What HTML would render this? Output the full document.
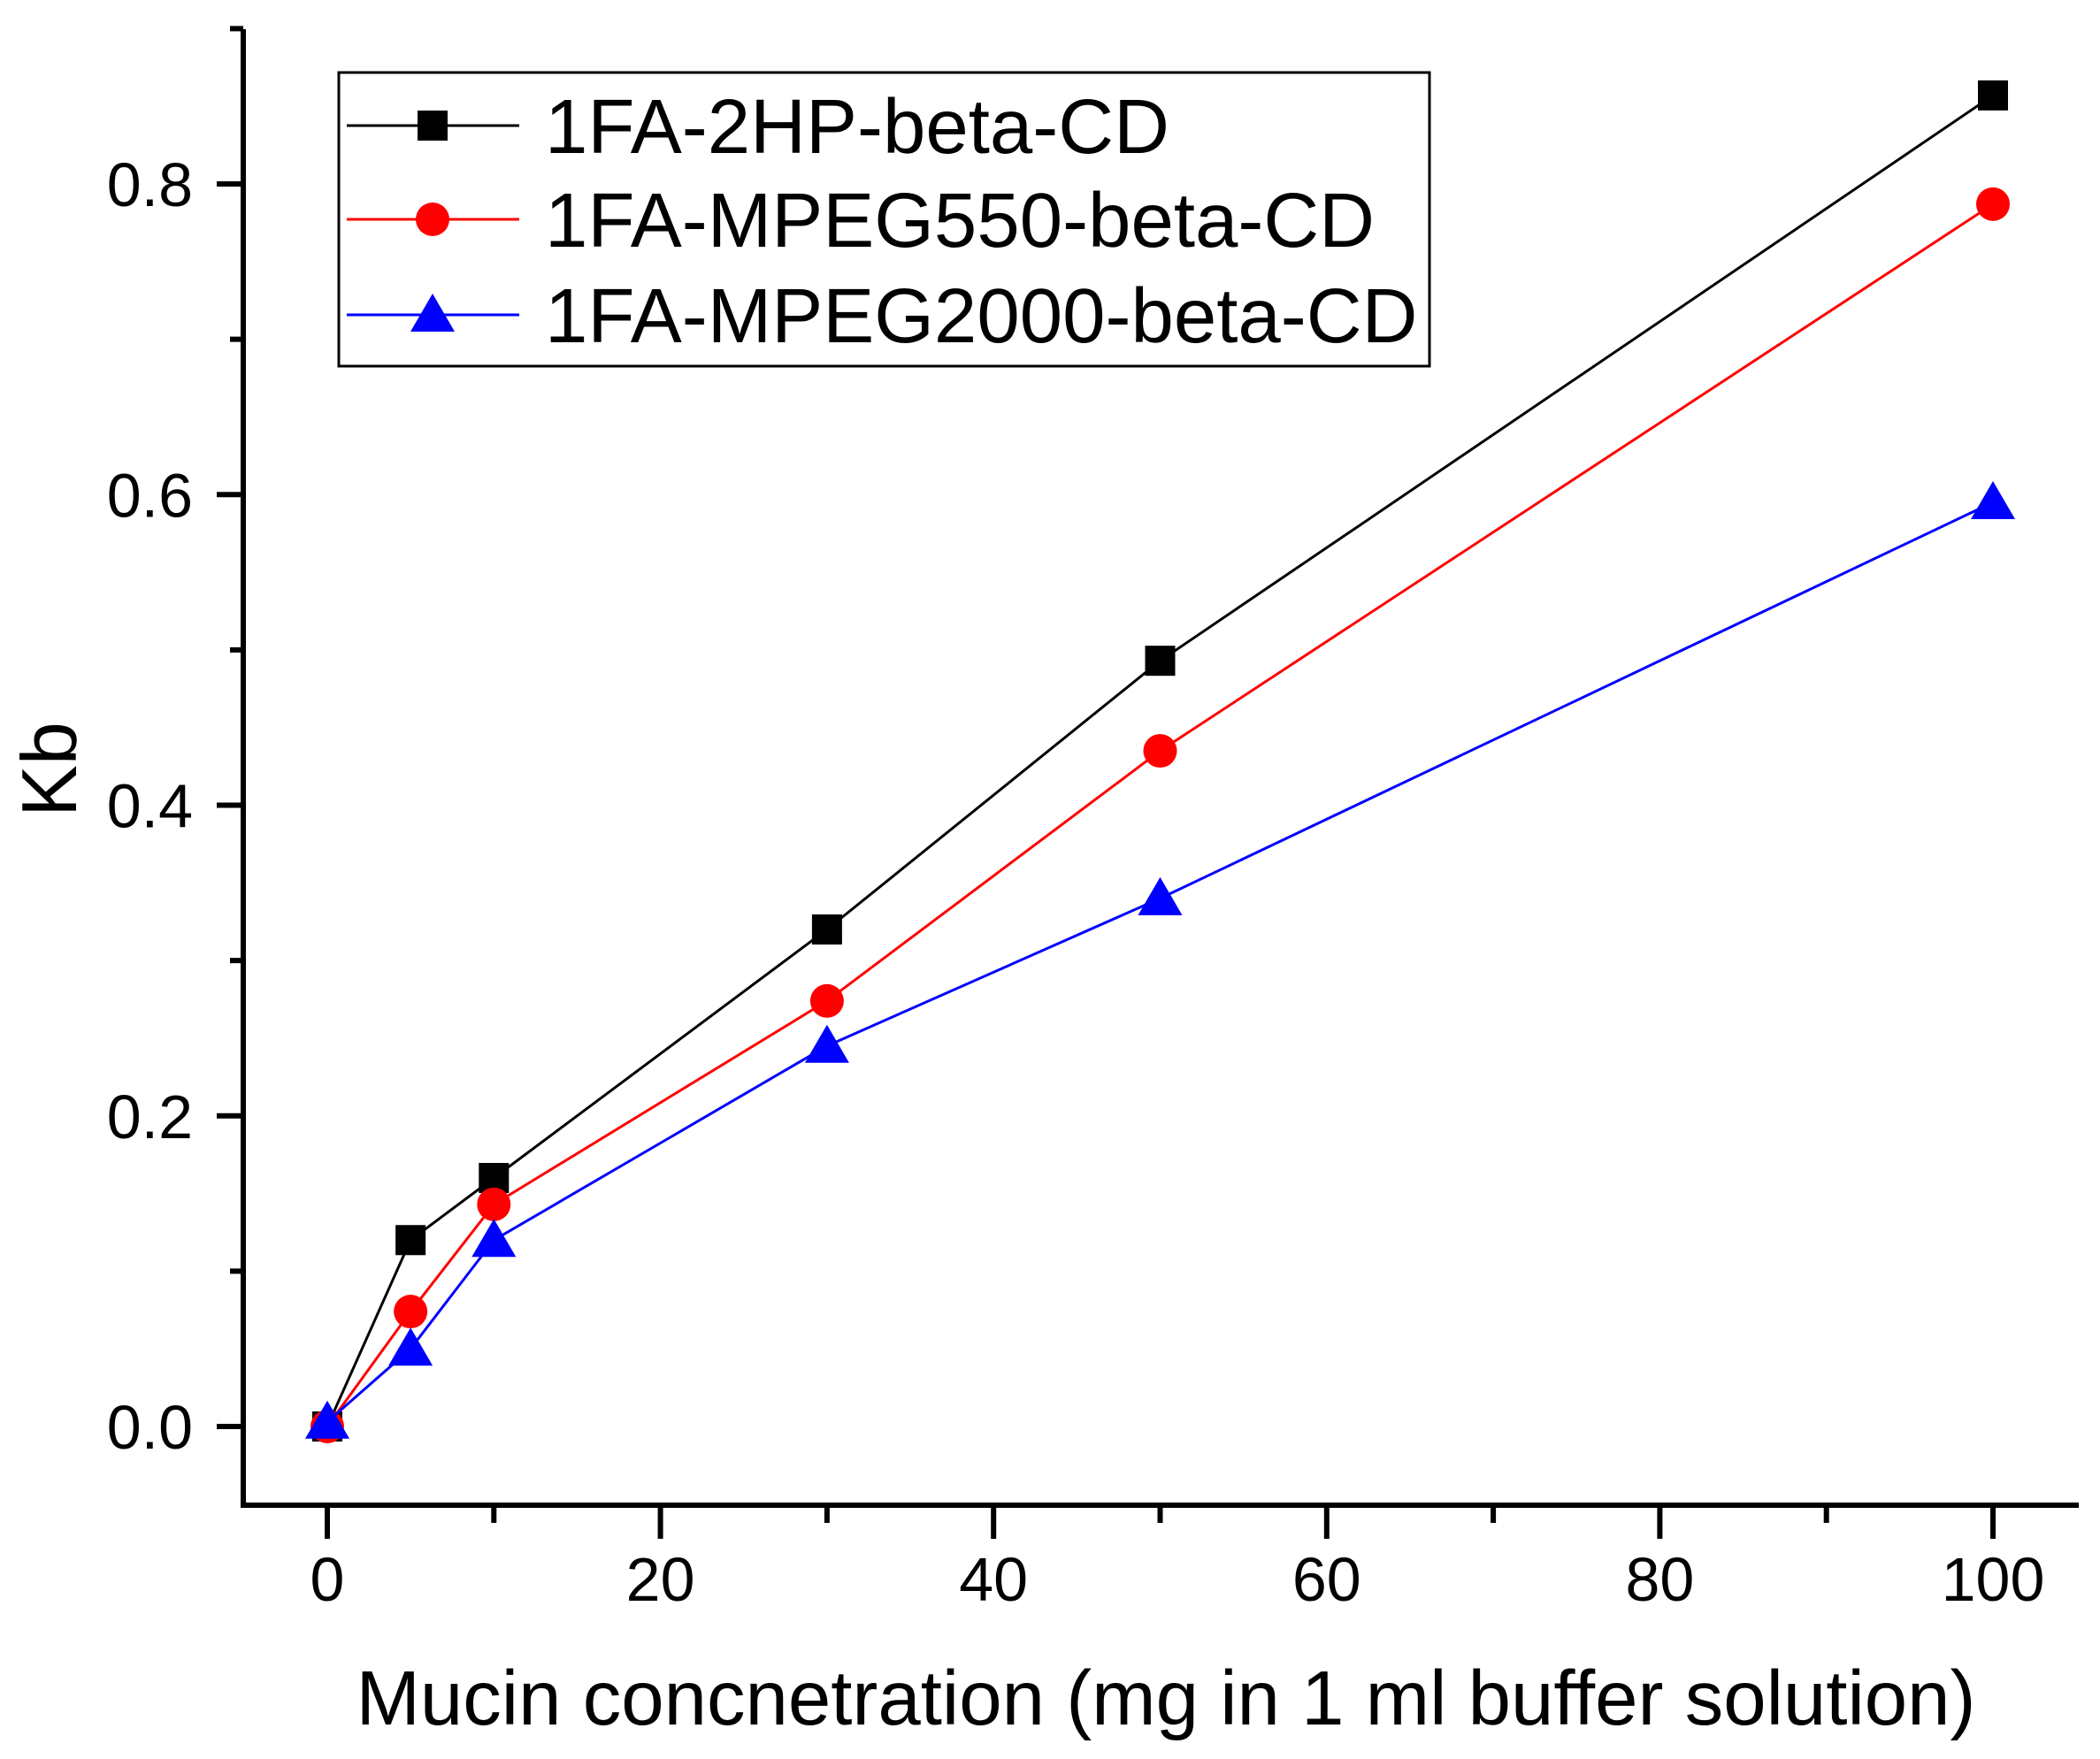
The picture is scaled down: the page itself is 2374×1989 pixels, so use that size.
<!DOCTYPE html>
<html><head><meta charset="utf-8"><style>body{margin:0;background:#fff}svg{display:block}</style></head>
<body>
<svg id="chart" width="2374" height="1989" xmlns="http://www.w3.org/2000/svg" font-family="Liberation Sans, Arial, sans-serif"></svg>
<script>
const xValues=[0,5,10,30,50,100];
const series1=[0,0.12,0.16,0.32,0.493,0.857];
const series2=[0,0.074,0.143,0.274,0.435,0.787];
const series3=[0.003,0.05,0.12,0.245,0.34,0.595];
const seriesNames=["1FA-2HP-beta-CD","1FA-MPEG550-beta-CD","1FA-MPEG2000-beta-CD"];
const xTicks=[0,20,40,60,80,100];
const xMinor=[10,30,50,70,90];
const yTicks=[0,0.2,0.4,0.6,0.8];
const yTickLabels=["0.0","0.2","0.4","0.6","0.8"];
const yMinor=[0.1,0.3,0.5,0.7,0.9];

const NS="http://www.w3.org/2000/svg";
const svg=document.getElementById('chart');
const X=v=>370+(v/100)*(2253-370);
const Y=v=>1613-(v/0.8)*(1613-208);
function el(t,a,p){const e=document.createElementNS(NS,t);for(const k in a)e.setAttribute(k,a[k]);(p||svg).appendChild(e);return e;}
const L=275,R=2350,T=33,B=1702;
let e;
e=el('line',{x1:L,y1:T,x2:L,y2:B+3,stroke:'#000','stroke-width':6});


e=el('line',{x1:L-3,y1:B,x2:R,y2:B,stroke:'#000','stroke-width':6});


xTicks.forEach(v=>{
 e=el('line',{x1:X(v),y1:B,x2:X(v),y2:B+38,stroke:'#000','stroke-width':6});
 
 
 e=el('text',{x:X(v),y:B+108,'font-size':70,'text-anchor':'middle'});
 e.textContent=v;
 
 
});
xMinor.forEach(v=>{
 e=el('line',{x1:X(v),y1:B,x2:X(v),y2:B+20,stroke:'#000','stroke-width':6});
 
 
});
yTicks.forEach((v,i)=>{
 e=el('line',{x1:L,y1:Y(v),x2:L-30,y2:Y(v),stroke:'#000','stroke-width':6});
 
 
 e=el('text',{x:218,y:Y(v)+25,'font-size':70,'text-anchor':'end'});
 e.textContent=yTickLabels[i];
 
 
});
yMinor.forEach(v=>{
 e=el('line',{x1:L,y1:Y(v),x2:L-15,y2:Y(v),stroke:'#000','stroke-width':6});
 
 
});
e=el('text',{x:1318,y:1950,'font-size':87,'text-anchor':'middle'});
e.textContent='Mucin concnetration (mg in 1 ml buffer solution)';


e=el('text',{x:86,y:870,'font-size':88,'text-anchor':'middle',transform:'rotate(-90 86 870)'});
e.textContent='Kb';



const colors=['#000','#f00','#00f'];
const shapes=['square','circle','triangle'];
function marker(g,shape,cx,cy,c){
 if(shape==='square')return el('rect',{x:cx-17,y:cy-17,width:34,height:34,fill:c},g);
 if(shape==='circle')return el('circle',{cx:cx,cy:cy,r:19,fill:c},g);
 return el('polygon',{points:`${cx},${cy-24} ${cx-25},${cy+19} ${cx+25},${cy+19}`,fill:c},g);
}
[series1,series2,series3].forEach((s,i)=>{
 const g=el('g',{});
 
 
 e=el('polyline',{points:s.map((v,j)=>X(xValues[j])+','+Y(v)).join(' '),fill:'none',stroke:colors[i],'stroke-width':3},g);
 
 
 s.forEach((v,j)=>{
  e=marker(g,shapes[i],X(xValues[j]),Y(v),colors[i]);
  
  
 });
});
const lg=el('g',{});


e=el('rect',{x:383,y:82,width:1233,height:332,fill:'#fff',stroke:'#000','stroke-width':3},lg);


const rowsY=[142,248,356];
seriesNames.forEach((n,i)=>{
 const g=el('g',{},lg);
 
 
 el('line',{x1:392,y1:rowsY[i],x2:587,y2:rowsY[i],stroke:colors[i],'stroke-width':3},g);
 marker(g,shapes[i],489,rowsY[i],colors[i]);
 const t=el('text',{x:616,y:rowsY[i]+31,'font-size':87},g);
 t.textContent=n;
});
</script>
</body></html>
